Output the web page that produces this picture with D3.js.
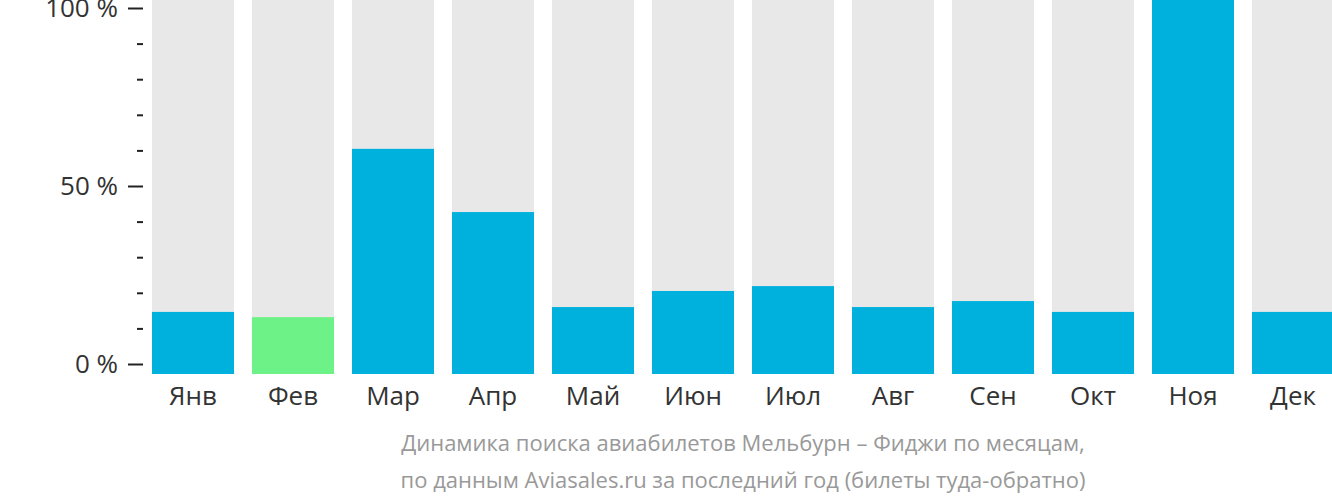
<!DOCTYPE html>
<html><head><meta charset="utf-8">
<script src="https://cdn.jsdelivr.net/npm/d3@7"></script>
<style>body{margin:0;background:#fff;overflow:hidden}svg{display:block}text{font-family:"Open Sans",sans-serif}</style>
</head><body><svg id="c" width="1332" height="502"></svg>
<script>
const months = ["Янв","Фев","Мар","Апр","Май","Июн","Июл","Авг","Сен","Окт","Ноя","Дек"];
const values = [16.6,15.2,60.2,43.3,17.9,22.2,23.5,17.9,19.5,16.6,100,16.6];
const highlight = [false,true,false,false,false,false,false,false,false,false,false,false];
const majorTicks = [0,50,100];
const minorTicks = [10,20,30,40,60,70,80,90];
const caption = ["Динамика поиска авиабилетов Мельбурн – Фиджи по месяцам,","по данным Aviasales.ru за последний год (билеты туда-обратно)"];

const svg = d3.select("#c");
const x = d3.scaleBand().domain(months).range([143,1343]).paddingInner(0.18).paddingOuter(0.09);
const yBar = d3.scaleLinear().domain([0,100]).range([374,0]);
const yAx = d3.scaleLinear().domain([0,100]).range([364,8]);

svg.append("g").selectAll("rect").data(months).join("rect")
  .attr("x",d=>x(d)).attr("width",x.bandwidth())
  .attr("y",yBar(100)).attr("height",yBar(0)-yBar(100)).attr("fill","#e8e8e8");
svg.append("g").selectAll("rect").data(values).join("rect")
  .attr("x",(d,i)=>x(months[i])).attr("width",x.bandwidth())
  .attr("y",d=>yBar(d)).attr("height",d=>yBar(0)-yBar(d))
  .attr("fill",(d,i)=>highlight[i]?"#6cf287":"#00b1dd");

const axMaj = d3.axisLeft(yAx).tickValues(majorTicks).tickSize(15).tickPadding(10).tickFormat(d=>d+" %");
const gMaj = svg.append("g").attr("transform","translate(143,0)").call(axMaj);
gMaj.attr("font-size",null).attr("font-family",null);
gMaj.select(".domain").remove();
gMaj.selectAll("line").attr("stroke","#222").attr("stroke-width",2);
gMaj.selectAll("text").style("font-size","26px").style("font-family","'Open Sans'").attr("fill","#333").attr("dy","0.34em");
const axMin = d3.axisLeft(yAx).tickValues(minorTicks).tickSize(6).tickFormat("");
const gMin = svg.append("g").attr("transform","translate(143,0)").call(axMin);
gMin.select(".domain").remove();
gMin.selectAll("line").attr("stroke","#222").attr("stroke-width",2);

const xa = d3.axisBottom(x).tickSize(0).tickPadding(0);
const gx = svg.append("g").attr("transform","translate(0,374)").call(xa);
gx.attr("font-size",null).attr("font-family",null);
gx.select(".domain").remove();
gx.selectAll("text").style("font-size","26px").style("font-family","'Open Sans'").attr("fill","#333").attr("y",31).attr("dy",0);

svg.append("g").selectAll("text").data(caption).join("text")
  .attr("x",743).attr("y",(d,i)=>451+i*37).attr("text-anchor","middle")
  .style("font-size","22px").attr("fill","#999").text(d=>d);
</script></body></html>
